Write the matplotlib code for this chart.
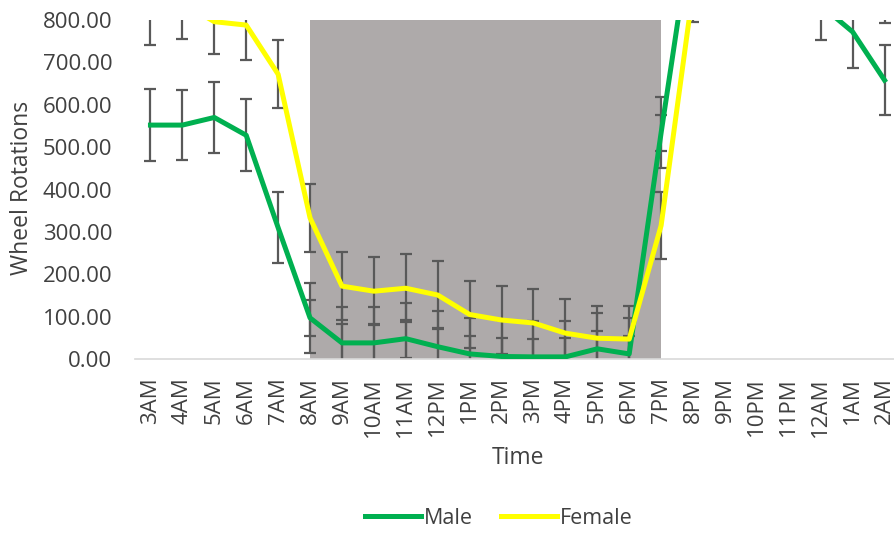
import matplotlib.pyplot as plt
import numpy as np

plt.rcParams['font.family'] = ['Open Sans', 'DejaVu Sans']

hours = ["3AM", "4AM", "5AM", "6AM", "7AM", "8AM", "9AM", "10AM", "11AM", "12PM",
         "1PM", "2PM", "3PM", "4PM", "5PM", "6PM", "7PM", "8PM", "9PM", "10PM",
         "11PM", "12AM", "1AM", "2AM"]

male = [552, 552, 570, 528, 310, 97, 38, 38, 48, 29, 12, 6, 5, 5, 24, 12, 534,
        1036, 1150, 1200, 1000, 835, 772, 658]
male_err = [85, 83, 84, 85, 83, 83, 85, 85, 85, 85, 85, 85, 85, 85, 85, 85, 84,
            85, 85, 85, 85, 83, 86, 83]
# second, smaller bars only drawn in the dark phase (8AM-7PM)
male_err_inner = [43, 45, 45, 45, 43, 43, 43, 43, 44, 43, 43, 42]

female = [825, 840, 796, 788, 672, 333, 172, 160, 167, 151, 105, 92, 85, 61, 49,
          47, 315, 870, 1050, 1100, 1050, 1000, 950, 875]
female_err = [84, 84, 77, 83, 80, 80, 80, 80, 80, 80, 78, 80, 80, 80, 77, 78, 80,
              75, 80, 80, 80, 80, 80, 83]

dark_start, dark_end = 5, 16

x = np.arange(len(hours))
male = np.array(male)
female = np.array(female)
dark = np.arange(dark_start, dark_end + 1)

fig = plt.figure(figsize=(8.94, 5.34), dpi=100)
ax = fig.add_axes([134.5 / 894, 1 - 359 / 534, 766 / 894, 339 / 534])

ax.axvspan(dark_start, dark_end, color="#AEAAAA", lw=0, zorder=0)

ebar = dict(fmt="none", ecolor="#595959", elinewidth=1.6, capsize=4.2, capthick=1.6, zorder=2)
ax.errorbar(x, male, yerr=male_err, **ebar)
ax.errorbar(dark, male[dark], yerr=male_err_inner, **ebar)
ax.errorbar(x, female, yerr=female_err, **ebar)

ax.plot(x, male, color="#00B050", lw=3.6, label="Male", zorder=3, solid_joinstyle="round")
ax.plot(x, female, color="#FFFF00", lw=3.6, label="Female", zorder=3, solid_joinstyle="round")

ax.set_xlim(-0.5, len(hours) - 0.5)
ax.set_ylim(0, 800)
ax.set_yticks(np.arange(0, 801, 100))
ax.set_yticklabels([f"{v:.2f}" for v in range(0, 801, 100)])
ax.set_xticks(x)
ax.set_xticklabels(hours, rotation=90)

for s in ["top", "right", "left"]:
    ax.spines[s].set_visible(False)
ax.spines["bottom"].set_color("#D9D9D9")
ax.spines["bottom"].set_linewidth(1.2)
ax.tick_params(axis="both", length=0, labelsize=16, colors="#404040")
ax.tick_params(axis="y", pad=16)
ax.tick_params(axis="x", pad=13)
ax.set_facecolor("none")

fig.text(22 / 894, 1 - 188 / 534, "Wheel Rotations", rotation=90, ha="center", va="center",
         fontsize=16.5, color="#404040")
fig.text(518 / 894, 1 - 458 / 534, "Time", ha="center", va="center", fontsize=16.5, color="#404040")

fig.legend(loc="center", bbox_to_anchor=(499 / 894, 1 - 518 / 534), ncol=2, frameon=False,
           fontsize=15.5, handlelength=2.6, columnspacing=1.3, handletextpad=0.15,
           labelcolor="#404040")

fig.savefig("out.png", dpi=100)
